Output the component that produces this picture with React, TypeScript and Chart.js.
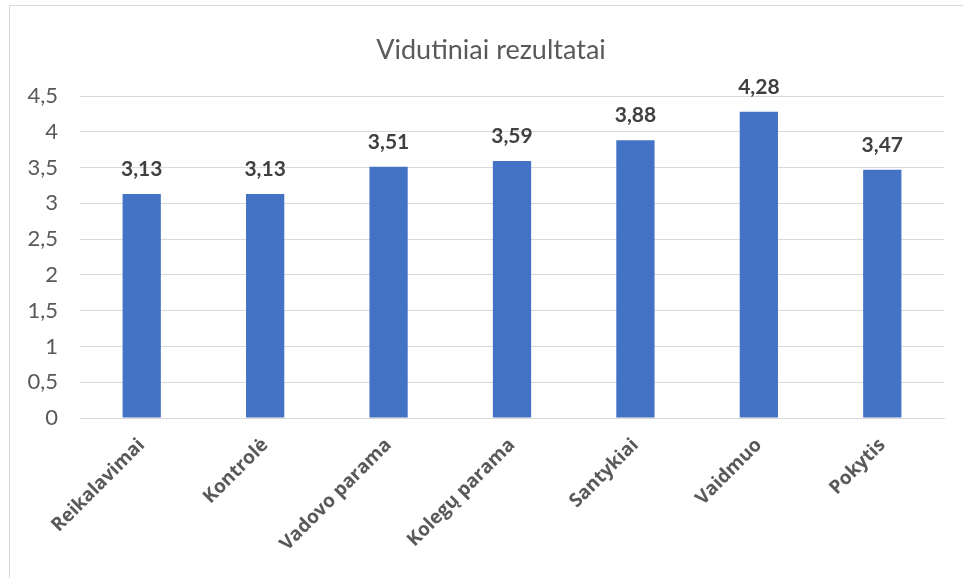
import React, { useEffect, useRef } from "react";
import { Chart, registerables } from "chart.js";

Chart.register(...registerables);

const categories = ["Reikalavimai", "Kontrolė", "Vadovo parama", "Kolegų parama", "Santykiai", "Vaidmuo", "Pokytis"];
const values = [3.13, 3.13, 3.51, 3.59, 3.88, 4.28, 3.47];
const yTicks = [0, 0.5, 1, 1.5, 2, 2.5, 3, 3.5, 4, 4.5];
const titleText = "Vidutiniai rezultatai";

const fmt = (v: number) => String(v).replace(".", ",");

const dataLabelPlugin = {
  id: "dataLabels",
  afterDatasetsDraw(chart: any) {
    const ctx = chart.ctx;
    const meta = chart.getDatasetMeta(0);
    ctx.save();
    ctx.font = "bold 21px Lato";
    ctx.fillStyle = "#404040";
    ctx.textAlign = "center";
    ctx.textBaseline = "alphabetic";
    meta.data.forEach((bar: any, i: number) => {
      ctx.fillText(fmt(values[i]), bar.x, bar.y - 18);
    });
    ctx.restore();
  },
};

const titlePlugin = {
  id: "centeredTitle",
  afterDraw(chart: any) {
    const ctx = chart.ctx;
    ctx.save();
    ctx.font = "27px Lato";
    ctx.fillStyle = "#595959";
    ctx.textAlign = "center";
    ctx.textBaseline = "alphabetic";
    ctx.fillText(titleText, 491, 59);
    ctx.restore();
  },
};

export default function App() {
  const ref = useRef<HTMLCanvasElement>(null);
  useEffect(() => {
    if (!ref.current) return;
    const chart = new Chart(ref.current, {
      type: "bar",
      data: {
        labels: categories,
        datasets: [
          {
            data: values,
            backgroundColor: "#4472C4",
            borderWidth: 0,
            barPercentage: 0.31,
            categoryPercentage: 1,
          },
        ],
      },
      options: {
        animation: false,
        responsive: false,
        maintainAspectRatio: false,
        layout: { padding: { top: 96, right: 19, left: 0, bottom: 0 } },
        plugins: {
          legend: { display: false },
          tooltip: { enabled: false },
          title: { display: false },
        },
        scales: {
          x: {
            grid: { display: false, drawTicks: false },
            border: { display: true, color: "#d9d9d9", width: 1 },
            ticks: {
              color: "#595959",
              font: { family: "Open Sans", size: 19, weight: "bold" },
              minRotation: 45,
              maxRotation: 45,
              padding: 16,
              autoSkip: false,
            },
            afterFit: (s: any) => {
              s.height = 160;
            },
          },
          y: {
            min: 0,
            max: 4.5,
            afterBuildTicks: (s: any) => {
              s.ticks = yTicks.map((v) => ({ value: v }));
            },
            grid: { color: "#d9d9d9", drawTicks: false, lineWidth: 1 },
            border: { display: false },
            ticks: {
              color: "#595959",
              font: { family: "Lato", size: 22 },
              padding: 22,
              callback: (v: any) => fmt(Number(v)),
            },
            afterFit: (s: any) => {
              s.width = 80;
            },
          },
        },
      },
      plugins: [dataLabelPlugin, titlePlugin],
    });
    return () => chart.destroy();
  }, []);

  return (
    <div style={{ position: "absolute", left: 0, top: 0, width: 963, height: 578, overflow: "hidden", background: "#fff" }}>
      <div style={{ position: "absolute", left: 9, top: 5, width: 1000, height: 700, border: "1px solid #d9d9d9", boxSizing: "border-box" }} />
      <canvas ref={ref} width={963} height={578} style={{ position: "absolute", left: 0, top: 0 }} />
    </div>
  );
}
